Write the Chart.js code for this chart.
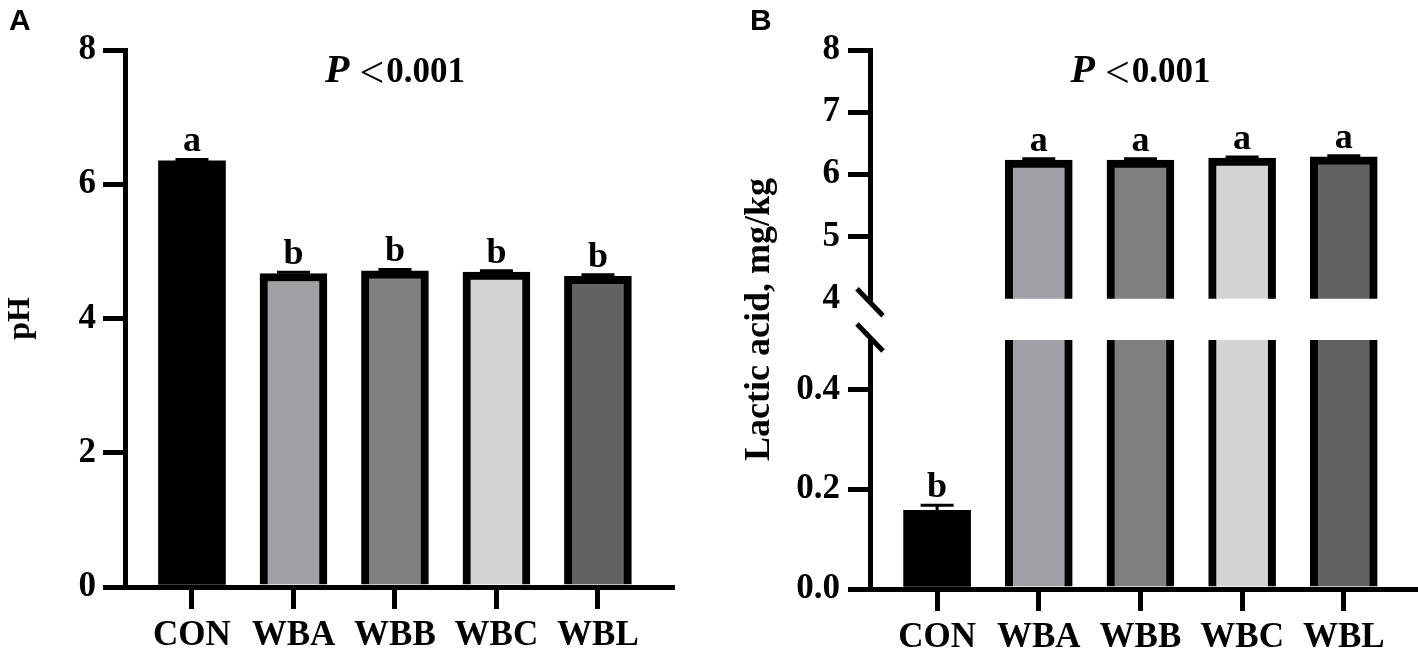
<!DOCTYPE html>
<html>
<head>
<meta charset="utf-8">
<script src="https://cdn.jsdelivr.net/npm/chart.js@4.4.1/dist/chart.umd.min.js"></script>
<style>
    html, body { margin: 0; padding: 0; background: #fff; }
    #wrap { position: relative; width: 1418px; height: 658px; overflow: hidden; }
    .panel { position: absolute; top: 0; width: 709px; height: 658px; }
</style>
</head>
<body>
<div id="wrap">
    <div class="panel" style="left:0"><canvas id="chartA" width="709" height="658"></canvas></div>
    <div class="panel" style="left:709px"><canvas id="chartBLow" width="709" height="658"></canvas></div>
    <div class="panel" style="left:709px; pointer-events:none"><canvas id="chartBHigh" width="709" height="658"></canvas></div>
</div>
<script>
// ---- data ----
var categories = ['CON', 'WBA', 'WBB', 'WBC', 'WBL'];

var phMean = [6.35, 4.67, 4.71, 4.69, 4.63];
var phErr = [0.02, 0.02, 0.02, 0.02, 0.02];
var phLetters = ['a', 'b', 'b', 'b', 'b'];
var phTicks = [0, 2, 4, 6, 8];

var lacticMean = [0.158, 6.23, 6.23, 6.26, 6.28];
var lacticErr = [0.01, 0.02, 0.02, 0.02, 0.02];
var lacticLetters = ['b', 'a', 'a', 'a', 'a'];
var lacticUpperTicks = [4, 5, 6, 7, 8];
var lacticLowerTicks = [0, 0.2, 0.4];

var pText = ['P', '<', '0.001'];

// ---- styling ----
var serif = '"Liberation Serif", "Times New Roman", serif';
var sans = '"Liberation Sans", Arial, sans-serif';
var fills = ['#000000', '#a1a1a5', '#808080', '#d4d4d4', '#626262'];
var borders = [0, 8, 8, 8, 8];

function toPoints(values) {
    return values.map(function (v, i) { return { x: i, y: v }; });
}

var errorBars = {
    id: 'errorBars',
    afterDatasetsDraw: function (chart, args, opts) {
        var ctx = chart.ctx;
        var y = chart.scales.y;
        var meta = chart.getDatasetMeta(0);
        ctx.save();
        ctx.strokeStyle = '#000';
        ctx.fillStyle = '#000';
        ctx.lineWidth = 3;
        ctx.font = 'bold 36px ' + serif;
        ctx.textAlign = 'center';
        ctx.textBaseline = 'alphabetic';
        opts.means.forEach(function (m, i) {
            var top = m + opts.errors[i];
            if (top < y.min || top > y.max) return;
            var bx = meta.data[i].x;
            var yTop = y.getPixelForValue(top);
            var yMean = y.getPixelForValue(m);
            ctx.beginPath();
            ctx.moveTo(bx, yMean);
            ctx.lineTo(bx, yTop);
            ctx.moveTo(bx - 16.5, yTop);
            ctx.lineTo(bx + 16.5, yTop);
            ctx.stroke();
            ctx.fillText(opts.letters[i], bx, yTop - 8);
        });
        ctx.restore();
    }
};

var extras = {
    id: 'extras',
    afterDraw: function (chart, args, opts) {
        var ctx = chart.ctx;
        var area = chart.chartArea;
        var y = chart.scales.y;
        ctx.save();
        ctx.fillStyle = '#000';
        ctx.strokeStyle = '#000';

        if (opts.panel) {
            ctx.font = 'bold 30px ' + sans;
            ctx.textAlign = 'left';
            ctx.textBaseline = 'alphabetic';
            ctx.fillText(opts.panel, opts.panelX, 30);
        }

        if (opts.pTitle) {
            var cx = chart.scales.x.getPixelForValue((categories.length - 1) / 2);
            var parts = [
                { t: pText[0], f: 'italic bold 40px ' + serif, gap: 10, dy: 0 },
                { t: pText[1], f: '44px ' + serif, gap: 2, dy: 5 },
                { t: pText[2], f: 'bold 35px ' + serif, gap: 0, dy: 0 }
            ];
            var total = 0;
            parts.forEach(function (p) {
                ctx.font = p.f;
                p.w = ctx.measureText(p.t).width;
                total += p.w + p.gap;
            });
            var x = cx - total / 2;
            ctx.textAlign = 'left';
            ctx.textBaseline = 'alphabetic';
            parts.forEach(function (p) {
                ctx.font = p.f;
                ctx.fillText(p.t, x, 82 + p.dy);
                x += p.w + p.gap;
            });
        }

        if (opts.breakAt) {
            var ax = y.right;
            var cy = opts.breakAt === 'bottom' ? area.bottom + 3.5 : area.top - 2.5;
            ctx.lineWidth = 5;
            ctx.beginPath();
            ctx.moveTo(ax - 13, cy - 13.5);
            ctx.lineTo(ax + 13, cy + 13.5);
            ctx.stroke();
        }

        if (opts.yTitle) {
            ctx.translate(opts.yTitleX, (50 + area.bottom) / 2);
            ctx.rotate(-Math.PI / 2);
            ctx.font = 'bold 36px ' + serif;
            ctx.textAlign = 'center';
            ctx.textBaseline = 'alphabetic';
            ctx.fillText(opts.yTitle, 0, 0);
        }
        ctx.restore();
    }
};

function xAxis(show, height) {
    return {
        type: 'linear',
        min: -0.66,
        max: 4.73,
        offset: false,
        display: show,
        afterBuildTicks: function (s) {
            s.ticks = categories.map(function (c, i) { return { value: i }; });
        },
        afterFit: function (s) { s.height = height; },
        border: { display: true, color: '#000', width: 5 },
        grid: { offset: false, drawOnChartArea: false, drawTicks: true, tickLength: 22, color: '#000', lineWidth: 5 },
        ticks: {
            color: '#000',
            padding: 6,
            maxRotation: 0,
            autoSkip: false,
            font: { family: serif, size: 35, weight: 'bold' },
            callback: function (v) { return categories[v]; }
        }
    };
}

function yAxis(min, max, tickValues, width, padding, format, hideTick) {
    return {
        min: min,
        max: max,
        afterBuildTicks: function (s) {
            s.ticks = tickValues.map(function (v) { return { value: v }; });
        },
        afterFit: function (s) { s.width = width; },
        border: { display: true, color: '#000', width: 5 },
        grid: {
            drawOnChartArea: false,
            drawTicks: true,
            tickLength: 22,
            lineWidth: 5,
            color: '#000',
            tickColor: function (c) {
                return (c.tick && c.tick.value === hideTick) ? 'rgba(0,0,0,0)' : '#000';
            }
        },
        ticks: {
            color: '#000',
            padding: padding,
            font: { family: serif, size: 35, weight: 'bold' },
            callback: format
        }
    };
}

function barDataset(values) {
    return {
        data: toPoints(values),
        backgroundColor: fills,
        borderColor: '#000',
        borderWidth: borders,
        borderSkipped: 'start',
        barThickness: 67,
        clip: 0
    };
}

function baseOptions(padding) {
    return {
        responsive: false,
        animation: false,
        layout: { padding: padding },
        plugins: { legend: { display: false }, tooltip: { enabled: false } }
    };
}

// ---- panel A: pH ----
var optsA = baseOptions({ top: 50, right: 37, bottom: 0, left: 0 });
optsA.scales = {
    x: xAxis(true, 71),
    y: yAxis(0, 8, phTicks, 125, 7, function (v) { return String(v); }, null)
};
optsA.scales.y.title = {
    display: true, text: 'pH', color: '#000',
    font: { family: serif, size: 32, weight: 'bold' },
    padding: { top: 2, bottom: 0 }
};
optsA.plugins.errorBars = { means: phMean, errors: phErr, letters: phLetters };
optsA.plugins.extras = { panel: 'A', panelX: 9, pTitle: true };

new Chart(document.getElementById('chartA'), {
    type: 'bar',
    data: { datasets: [barDataset(phMean)] },
    options: optsA,
    plugins: [errorBars, extras]
});

// ---- panel B: lactic acid, lower segment (0 - 0.5) ----
var optsLow = baseOptions({ top: 340, right: 0, bottom: 0, left: 0 });
optsLow.scales = {
    x: xAxis(true, 69),
    y: yAxis(0, 0.5, lacticLowerTicks, 161, 8, function (v) { return v.toFixed(1); }, null)
};
optsLow.plugins.errorBars = { means: lacticMean, errors: lacticErr, letters: lacticLetters };
optsLow.plugins.extras = { panel: 'B', panelX: 41, breakAt: 'top', yTitle: 'Lactic acid, mg/kg', yTitleX: 60 };

new Chart(document.getElementById('chartBLow'), {
    type: 'bar',
    data: { datasets: [barDataset(lacticMean)] },
    options: optsLow,
    plugins: [errorBars, extras]
});

// ---- panel B: upper segment (4 - 8) ----
var optsHigh = baseOptions({ top: 50, right: 0, bottom: 359.3, left: 0 });
optsHigh.scales = {
    x: xAxis(false, 0),
    y: yAxis(4, 8, lacticUpperTicks, 161, 8, function (v) { return String(v); }, 4)
};
optsHigh.plugins.errorBars = { means: lacticMean, errors: lacticErr, letters: lacticLetters };
optsHigh.plugins.extras = { breakAt: 'bottom', pTitle: true };

new Chart(document.getElementById('chartBHigh'), {
    type: 'bar',
    data: { datasets: [barDataset(lacticMean)] },
    options: optsHigh,
    plugins: [errorBars, extras]
});
</script>
</body>
</html>
